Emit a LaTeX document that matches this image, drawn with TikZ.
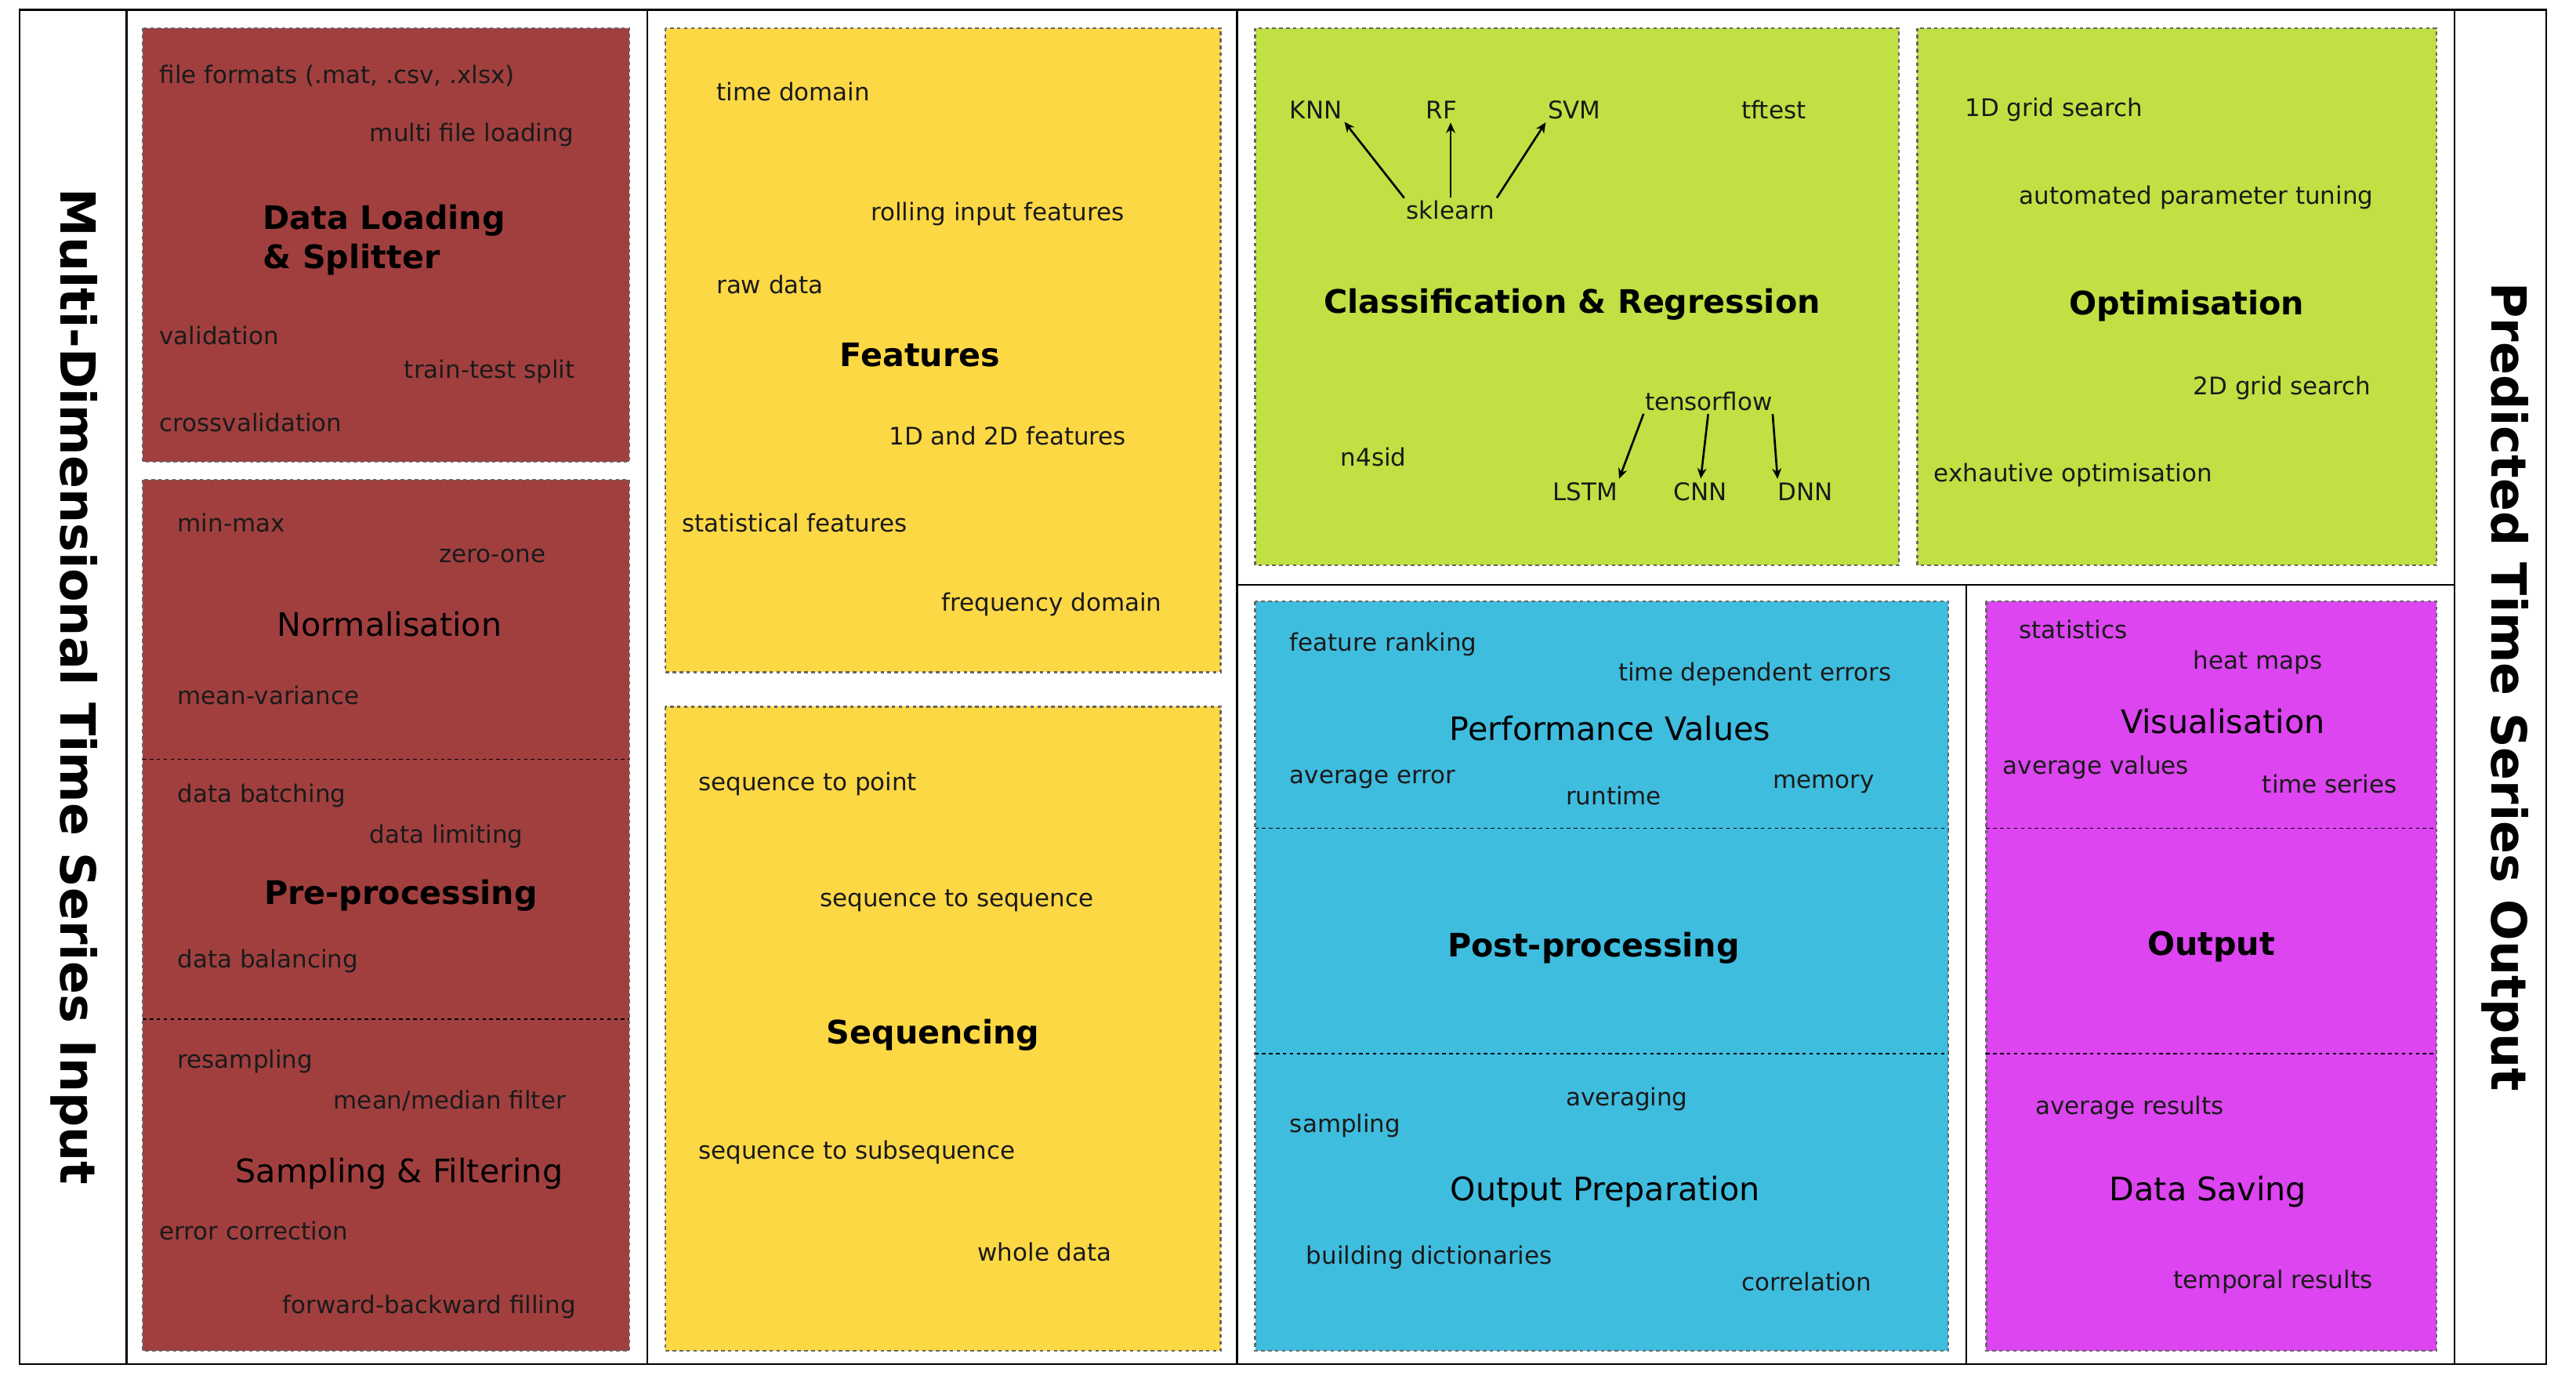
\documentclass[tikz,border=0pt]{standalone}
\usepackage{fontspec}
\setmainfont{DejaVu Sans}
\usetikzlibrary{arrows.meta}
\definecolor{cred}{HTML}{A13F3F}
\definecolor{cyel}{HTML}{FDD845}
\definecolor{cgrn}{HTML}{C0E043}
\definecolor{ccya}{HTML}{3FBDDF}
\definecolor{cmag}{HTML}{DC45F0}
\definecolor{ctxt}{HTML}{1A1A1A}
\begin{document}
\begin{tikzpicture}[x=0.05cm,y=-0.05cm,
  box/.style={draw=black!60,dashed,line width=1.5pt},
  div/.style={draw=black,dashed,line width=1.2pt},
  frame/.style={draw=black,line width=1.5pt},
  t/.style={anchor=west,text=ctxt,font=\fontsize{21}{25}\selectfont,inner sep=0pt},
  tc/.style={anchor=center,text=ctxt,font=\fontsize{21}{25}\selectfont,inner sep=0pt},
  ht/.style={anchor=center,text=black,font=\fontsize{28}{34}\selectfont,inner sep=0pt},
  hb/.style={anchor=center,text=black,font=\bfseries\fontsize{28}{34}\selectfont,inner sep=0pt},
  side/.style={anchor=center,text=black,font=\bfseries\fontsize{42}{50}\selectfont,inner sep=0pt},
  ar/.style={-{Stealth[length=9pt,width=8pt]},line width=1.8pt,shorten <=3pt,shorten >=3pt}]
\useasboundingbox[fill=white] (0,0) rectangle (1568,839);
% frame
\draw[frame] (12,6) rectangle (1550,830);
\foreach \x in {77,394,753,1494} \draw[frame] (\x,6) -- (\x,830);
\draw[frame] (753,356) -- (1494,356);
\draw[frame] (1197,356) -- (1197,830);
\node[side,rotate=-90] (lin) at (45,418) {Multi-Dimensional Time Series Input};
\node[side,rotate=-90] (rout) at (1525,418) {Predicted Time Series Output};
% boxes
\draw[box,fill=cred] (87,17) rectangle (383,281);
\draw[box,fill=cred] (87,292) rectangle (383,822);
\draw[div] (87,462) -- (383,462); \draw[div] (87,620) -- (383,620);
\draw[box,fill=cyel] (405,17) rectangle (743,409);
\draw[box,fill=cyel] (405,430) rectangle (743,822);
\draw[box,fill=cgrn] (764,17) rectangle (1156,344);
\draw[box,fill=cgrn] (1167,17) rectangle (1483,344);
\draw[box,fill=ccya] (764,366) rectangle (1186,822);
\draw[div] (764,504) -- (1186,504); \draw[div] (764,641) -- (1186,641);
\draw[box,fill=cmag] (1209,366) rectangle (1483,822);
\draw[div] (1209,504) -- (1483,504); \draw[div] (1209,641) -- (1483,641);
% red 1
\node[t] (a1) at (97,46) {file formats (.mat, .csv, .xlsx)};
\node[t] (a2) at (225,82) {multi file loading};
\node[hb,anchor=west,align=left] (a3) at (160,146) {Data Loading\\\& Splitter};
\node[t] (a4) at (97,204) {validation};
\node[t] (a5) at (246,226) {train-test split};
\node[t] (a6) at (97,257) {crossvalidation};
% red 2
\node[t] (b1) at (108,318) {min-max};
\node[t] (b2) at (267,338) {zero-one};
\node[ht] (b3) at (237,380) {Normalisation};
\node[t] (b4) at (108,423) {mean-variance};
\node[t] (b5) at (108,484) {data batching};
\node[t] (b6) at (225,509) {data limiting};
\node[hb] (b7) at (244,545) {Pre-processing};
\node[t] (b8) at (108,585) {data balancing};
\node[t] (b9) at (108,646) {resampling};
\node[t] (b10) at (203,670) {mean/median filter};
\node[ht] (b11) at (243,714) {Sampling \& Filtering};
\node[t] (b12) at (97,749) {error correction};
\node[t] (b13) at (172,795) {forward-backward filling};
% yellow
\node[t] (c1) at (436,56) {time domain};
\node[t] (c2) at (530,130) {rolling input features};
\node[t] (c3) at (436,173) {raw data};
\node[hb] (c4) at (560,216) {Features};
\node[t] (c5) at (541,265) {1D and 2D features};
\node[t] (c6) at (415,318) {statistical features};
\node[t] (c7) at (573,368) {frequency domain};
\node[t] (d1) at (425,477) {sequence to point};
\node[t] (d2) at (499,548) {sequence to sequence};
\node[hb] (d3) at (568,630) {Sequencing};
\node[t] (d4) at (425,701) {sequence to subsequence};
\node[t] (d5) at (595,762) {whole data};
% green 1
\node[t] (knn) at (785,67) {KNN};
\node[t] (rf) at (868,67) {RF};
\node[t] (svm) at (942,67) {SVM};
\node[t] (tft) at (1060,67) {tftest};
\node[tc] (skl) at (883,128) {sklearn};
\node[hb] (cr) at (957,185) {Classification \& Regression};
\node[tc] (tf) at (1040,244) {tensorflow};
\node[t] (n4) at (816,278) {n4sid};
\node[tc] (lstm) at (965,299) {LSTM};
\node[tc] (cnn) at (1035,299) {CNN};
\node[tc] (dnn) at (1099,299) {DNN};
\draw[ar] (skl.north west) -- (knn.south east);
\draw[ar] (skl.north) -- (skl.north |- rf.south);
\draw[ar] (skl.north east) -- (svm.south west);
\draw[ar] (tf.south west) -- (lstm.north east);
\draw[ar] (tf.south) -- (cnn.north);
\draw[ar] (tf.south east) -- (dnn.north west);
% green 2
\node[t] (e1) at (1196,67) {1D grid search};
\node[t] (e2) at (1229,120) {automated parameter tuning};
\node[hb] (e3) at (1331,186) {Optimisation};
\node[t] (e4) at (1335,236) {2D grid search};
\node[t] (e5) at (1177,289) {exhautive optimisation};
% cyan
\node[t] (f1) at (785,392) {feature ranking};
\node[t] (f2) at (985,410) {time dependent errors};
\node[ht] (f3) at (980,443) {Performance Values};
\node[t] (f4) at (785,474) {average error};
\node[t] (f5) at (953,484) {runtime};
\node[t] (f6) at (1079,477) {memory};
\node[hb] (f7) at (970,577) {Post-processing};
\node[t] (f8) at (953,669) {averaging};
\node[t] (f9) at (785,685) {sampling};
\node[ht] (f10) at (977,725) {Output Preparation};
\node[t] (f11) at (795,765) {building dictionaries};
\node[t] (f12) at (1060,780) {correlation};
% magenta
\node[t] (g1) at (1229,383) {statistics};
\node[t] (g2) at (1335,403) {heat maps};
\node[ht] (g3) at (1353,439) {Visualisation};
\node[t] (g4) at (1219,467) {average values};
\node[t] (g5) at (1377,477) {time series};
\node[hb] (g6) at (1346,576) {Output};
\node[t] (g7) at (1239,674) {average results};
\node[ht] (g8) at (1344,725) {Data Saving};
\node[t] (g9) at (1323,780) {temporal results};
\end{tikzpicture}
\end{document}
